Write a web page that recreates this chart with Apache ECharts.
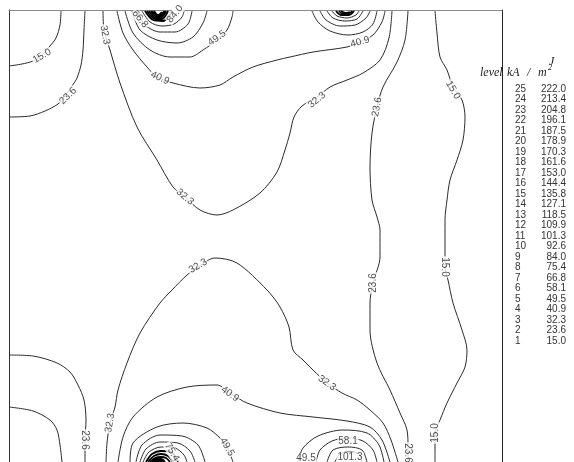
<!DOCTYPE html>
<html>
<head>
    <meta charset="UTF-8">
    <title>Current density contours</title>
    <script src="https://cdn.jsdelivr.net/npm/echarts@6/dist/echarts.min.js"></script>
    <style>html, body { margin: 0; padding: 0; background: #fff; }</style>
</head>
<body>
    <div id="main" style="width: 574px;height:462px;"></div>
    <script type="text/javascript">
        // contour levels, kA/m^2 (legend on the right)
        var levels = [15.0, 23.6, 32.3, 40.9, 49.5, 58.1, 66.8, 75.4, 84.0, 92.6, 101.3, 109.9, 118.5,
            127.1, 135.8, 144.4, 153.0, 161.6, 170.3, 178.9, 187.5, 196.1, 204.8, 213.4, 222.0];
        var levelNumbers = levels.map(function (v, i) { return i + 1; });

        var j150TopLeft = [[52,451],[51,437],[47,424],[41,416],[33,407],[24,401],[13,398],[0,396]];
        var j236TopLeft = [[76,451],[75,432],[74,412],[72,397],[68,384],[63,376],[56,366],[49,358],[36,351],[21,346],[0,345]];
        var j323Top = [[94,451],[95,432],[101,412],[111,379],[128,335],[148,302],[164,275],[176,265],[191,252],[208,247],
            [224,252],[251,269],[268,290],[276,312],[281,329],[285,345],[293,356],[308,365],[321,375],[338,382],
            [354,389],[371,402],[380,424],[383,451]];
        var j409Top = [[108,451],[114,429],[124,412],[138,395],[148,385],[164,379],[191,374],[211,377],[224,385],[244,395],
            [268,402],[281,405],[304,410],[338,415],[351,420],[364,427],[373,440],[376,451]];
        var j495TopLeft = [[116,451],[124,429],[141,412],[161,405],[181,405],[194,412],[208,422],[218,432],[223,445],[224,451]];
        var j581TopLeft = [[123,451],[131,432],[148,422],[168,419],[184,425],[194,439],[198,451]];
        var j668TopLeft = [[128,451],[136,437],[151,430],[166,430],[179,438],[183,451]];
        var j754TopLeft = [[133,451],[141,440],[153,436],[165,438],[173,445],[175,451]];
        var j840TopLeft = [[136,451],[144,442],[154,441],[161,447],[163,451]];
        var j926TopLeft = [[138,451],[146,443],[153,443],[159,451]];
        var j1013TopLeft = [[140,451],[147,444],[153,445],[157,451]];
        var j1099TopLeft = [[142,451],[148,445],[154,447],[156,451]];
        var j1185TopLeft = [[143,451],[149,446],[154,449],[155,451]];
        var j1271TopLeft = [[145,451],[149,447],[153,450]];

        var j495TopRight = [[303,451],[309,440],[321,431],[339,427],[354,430],[364,438],[368,451]];
        var j581TopRight = [[311,451],[317,442],[331,436],[346,437],[357,444],[361,451]];
        var j668TopRight = [[318,451],[324,444],[336,441],[348,443],[354,451]];
        var j754TopRight = [[323,451],[328,446],[338,444],[347,447],[350,451]];
        var j840TopRight = [[327,451],[332,447],[340,447],[345,451]];
        var j926TopRight = [[330,451],[334,448],[341,449],[343,451]];
        var j1013TopRight = [[332,451],[336,449],[341,450]];

        var j236Right = [[399,451],[396,422],[388,400],[374,375],[368,355],[363,329],[361,295],[363,262],[368,245],[371,232],
            [371,205],[364,179],[361,159],[361,132],[368,99],[381,72],[391,49],[398,32],[399,15],[399,0]];
        var j150Right = [[426,451],[428,429],[431,405],[438,392],[444,375],[453,362],[456,345],[454,322],[448,302],[441,282],
            [438,262],[436,242],[436,212],[436,195],[439,182],[444,159],[453,132],[458,112],[456,95],[448,79],
            [438,59],[431,42],[426,29],[426,12],[426,0]];

        var j236BottomLeft = [[0,107],[24,106],[48,99],[61,90],[69,77],[75,62],[77,42],[76,22],[76,0]];
        var j150BottomLeft = [[0,55],[24,51],[41,42],[48,32],[51,17],[53,0]];
        var j323Middle = [[97,0],[98,19],[101,39],[106,55],[109,72],[118,99],[131,129],[151,159],[163,172],[178,187],
            [189,195],[206,204],[228,199],[258,172],[271,155],[280,135],[284,112],[294,102],[304,92],[318,79],
            [333,69],[348,62],[361,52],[374,39],[382,22],[389,0]];
        var j409Bottom = [[109,0],[114,25],[124,45],[148,65],[178,75],[208,77],[221,69],[238,59],[271,49],[304,45],
            [338,41],[361,35],[373,22],[381,0]];
        var j495BottomLeft = [[121,0],[124,19],[148,35],[174,39],[198,34],[211,24],[218,15],[224,0]];
        var j581BottomLeft = [[127,0],[133,17],[151,27],[173,26],[189,17],[196,0]];
        var j668BottomLeft = [[131,0],[137,13],[151,20],[169,19],[181,11],[186,0]];
        var j754BottomLeft = [[134,0],[140,10],[152,15],[166,14],[175,7],[178,0]];
        var j840BottomLeft = [[137,0],[143,8],[152,11],[162,10],[169,0]];
        var j926BottomLeft = [[139,0],[145,6],[152,8],[159,6],[164,0]];
        var j1013BottomLeft = [[141,0],[146,4],[152,5],[157,4],[161,0]];
        var j1099BottomLeft = [[143,0],[147,3],[152,3],[156,0]];
        var j1185BottomLeft = [[144,0],[148,2],[152,2],[155,0]];
        var j1271BottomLeft = [[146,0],[149,1],[153,0]];

        var j495BottomRight = [[289,0],[294,14],[309,26],[334,32],[358,29],[370,17],[375,0]];
        var j581BottomRight = [[307,0],[311,12],[323,21],[339,24],[354,21],[364,12],[368,0]];
        var j668BottomRight = [[318,0],[324,12],[339,15],[353,12],[358,0]];
        var j754BottomRight = [[326,0],[331,8],[340,10],[350,8],[353,0]];

        // each line with the index of its level
        var contourLines = [
            [0, j150TopLeft], [1, j236TopLeft], [2, j323Top], [3, j409Top], [4, j495TopLeft], [5, j581TopLeft],
            [6, j668TopLeft], [7, j754TopLeft], [8, j840TopLeft], [9, j926TopLeft], [10, j1013TopLeft],
            [11, j1099TopLeft], [12, j1185TopLeft], [13, j1271TopLeft],
            [4, j495TopRight], [5, j581TopRight], [6, j668TopRight], [7, j754TopRight], [8, j840TopRight],
            [9, j926TopRight], [10, j1013TopRight],
            [1, j236Right], [0, j150Right], [1, j236BottomLeft], [0, j150BottomLeft], [2, j323Middle], [3, j409Bottom],
            [4, j495BottomLeft], [5, j581BottomLeft], [6, j668BottomLeft], [7, j754BottomLeft], [8, j840BottomLeft],
            [9, j926BottomLeft], [10, j1013BottomLeft], [11, j1099BottomLeft], [12, j1185BottomLeft], [13, j1271BottomLeft],
            [4, j495BottomRight], [5, j581BottomRight], [6, j668BottomRight], [7, j754BottomRight]
        ];

        // inline labels: x, y, index into levels, text angle
        var contourLabels = [
            [33,406,0,30], [59,366,1,45], [96,427,2,-80], [131,443,6,-50], [166,448,8,50],
            [208,424,4,35], [151,384,3,-25], [176,265,2,-40], [308,362,2,40], [351,420,3,15],
            [368,355,1,80], [444,372,0,-60], [189,196,2,30], [436,195,0,-90], [364,179,1,90],
            [318,79,2,-35], [221,68,3,-35], [101,39,2,80], [76,22,1,-90], [218,15,4,-60],
            [163,10,7,-60], [339,21,5,0], [341,5,10,0], [297,4,4,0], [399,9,1,-90], [426,29,0,90]
        ];

        var myChart = echarts.init(document.getElementById('main'));

        var series = contourLines.map(function (c) {
            return {
                type: 'line',
                data: c[1],
                smooth: 0.3,
                symbol: 'none',
                silent: true,
                lineStyle: { color: c[0] >= 8 ? '#000' : '#2b2b2b', width: c[0] >= 8 ? 1.8 : 1 },
                z: 2
            };
        });

        series.push({
            type: 'scatter',
            symbolSize: 1,
            itemStyle: { color: 'rgba(0,0,0,0)' },
            silent: true,
            z: 5,
            data: contourLabels.map(function (l) {
                return { value: [l[0], l[1], l[2]], label: { rotate: l[3] } };
            }),
            label: {
                show: true,
                position: 'inside',
                align: 'center',
                verticalAlign: 'middle',
                formatter: function (p) { return levels[p.value[2]].toFixed(1); },
                fontFamily: 'Liberation Sans',
                fontSize: 10,
                color: '#222',
                backgroundColor: '#fff',
                padding: [0, 1]
            }
        });

        // legend table: level number and value
        var serif = 'italic 12px "Liberation Serif"';
        var graphics = [
            { type: 'text', x: 549, y: 56, style: { text: 'J', font: serif, fill: '#222' } },
            { type: 'text', x: 480, y: 67, style: { text: 'level', font: serif, fill: '#222' } },
            { type: 'text', x: 507, y: 67, style: { text: 'kA', font: serif, fill: '#222' } },
            { type: 'text', x: 527, y: 67, style: { text: '/', font: serif, fill: '#222' } },
            { type: 'text', x: 538, y: 67, style: { text: 'm', font: serif, fill: '#222' } },
            { type: 'text', x: 548, y: 64, style: { text: '2', font: 'italic 8px "Liberation Serif"', fill: '#222' } }
        ];
        for (var i = levels.length - 1; i >= 0; i--) {
            var yy = 89 + (levels.length - 1 - i) * 10.5;
            graphics.push({ type: 'text', x: 515, y: yy, style: { text: String(levelNumbers[i]), font: '10px "Liberation Sans"', fill: '#333', verticalAlign: 'middle' } });
            graphics.push({ type: 'text', x: 566, y: yy, style: { text: levels[i].toFixed(1), font: '10px "Liberation Sans"', fill: '#333', align: 'right', verticalAlign: 'middle' } });
        }

        var option = {
            animation: false,
            backgroundColor: '#fff',
            grid: { left: 9, top: 10, right: 72, bottom: 0 },
            xAxis: {
                type: 'value', min: 0, max: 493, position: 'top',
                axisLine: { show: true, onZero: false, lineStyle: { color: '#8a8a8a', width: 1 } },
                axisTick: { show: false }, axisLabel: { show: false }, splitLine: { show: false }
            },
            yAxis: [{
                type: 'value', min: 0, max: 452, position: 'left',
                axisLine: { show: true, onZero: false, lineStyle: { color: '#333' } },
                axisTick: { show: false }, axisLabel: { show: false }, splitLine: { show: false }
            }, {
                type: 'value', min: 0, max: 452, position: 'right',
                axisLine: { show: true, onZero: false, lineStyle: { color: '#222' } },
                axisTick: { show: false }, axisLabel: { show: false }, splitLine: { show: false }
            }],
            graphic: graphics,
            series: series
        };

        myChart.setOption(option);
    </script>
</body>
</html>
